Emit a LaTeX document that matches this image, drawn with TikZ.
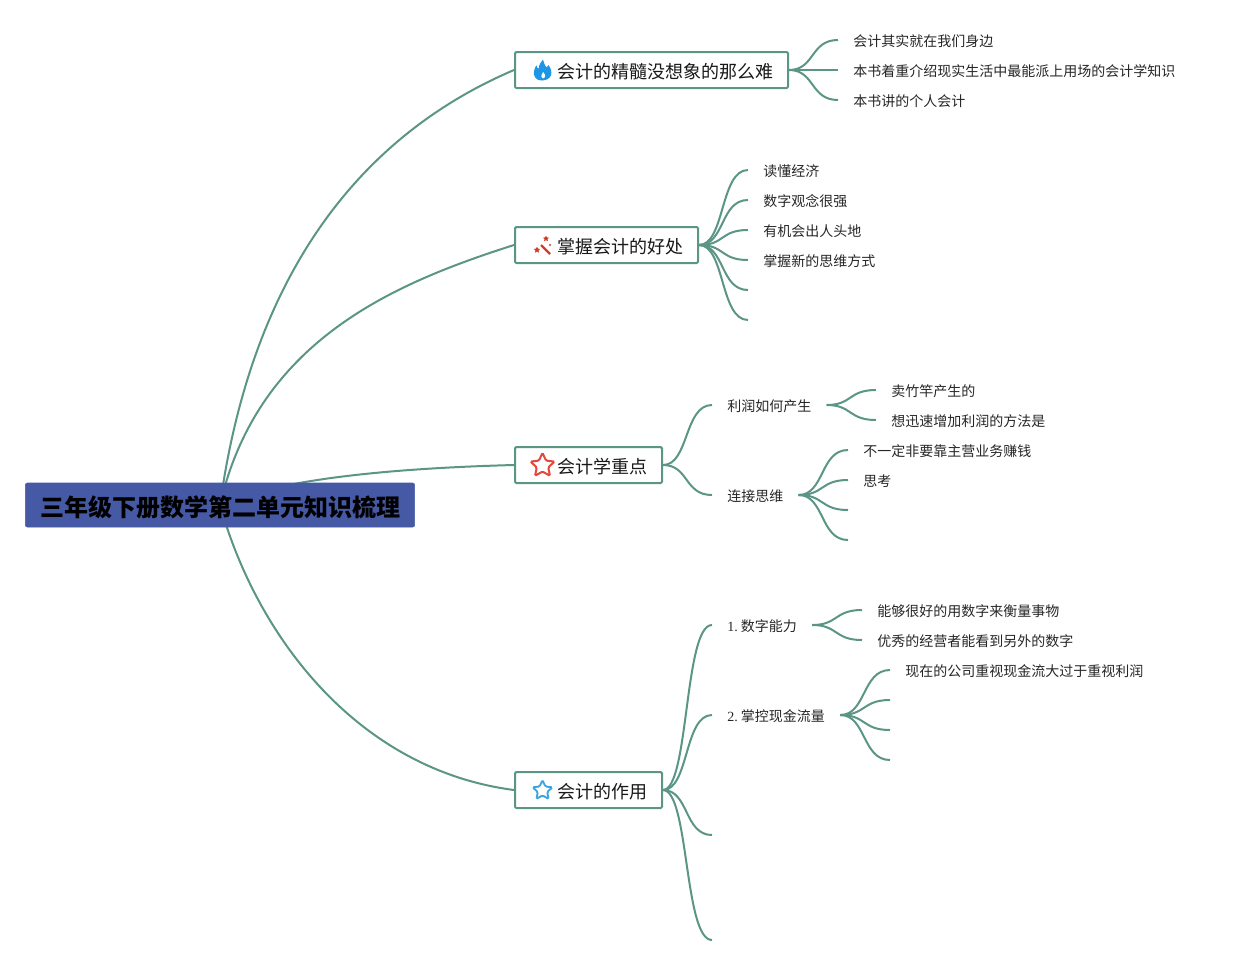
\documentclass[tikz,border=0pt]{standalone}
\usepackage{fontspec}
\setmainfont{Liberation Serif}
\newfontfamily\cjk{Noto Sans CJK SC}
\usetikzlibrary{shapes.geometric,backgrounds,calc}
\definecolor{linkc}{HTML}{5A9585}
\definecolor{rootc}{HTML}{4659A5}
\definecolor{fireblue}{HTML}{1E96E6}
\definecolor{wandred}{HTML}{D8392B}
\definecolor{starred}{HTML}{E5483A}
\definecolor{starblue}{HTML}{3AA5E0}
\tikzset{
  x=0.75pt,y=-0.75pt,
  rootnode/.style={draw=rootc,fill=rootc,rounded corners=1.5pt,minimum height=33pt,minimum width=292pt,inner sep=0pt,text height=17pt,text depth=0.4pt,font=\fontsize{18}{20}\selectfont\cjk\bfseries,text=black},
  branch/.style={draw=linkc,fill=white,line width=1.5pt,rounded corners=1pt,minimum height=27pt,inner ysep=0pt,inner xsep=0pt,text height=13pt,text depth=1pt,font=\fontsize{13.5}{16}\selectfont\cjk,text=black!90},
  leaf/.style={anchor=west,inner ysep=1pt,inner xsep=11.25pt,text height=10.5pt,text depth=0.3pt,font=\fontsize{10.5}{13}\selectfont\cjk,text=black!85},
  link/.style={draw=linkc,line width=1.5pt},
  star icon/.style={star,star points=5,star point ratio=2.1,inner sep=0pt,rounded corners=1pt,fill=white},
}
\begin{document}
\begin{tikzpicture}
\useasboundingbox (0,0) rectangle (1235,965);
% root
\node[rootnode] (root) at (220,505) {三年级下册数学第二单元知识梳理};
% branches
\node[branch,minimum width=204.75pt] (b1) at (651.5,70) {\hspace{21pt}会计的精髓没想象的那么难};
\node[branch,minimum width=137.25pt] (b2) at (606.5,245) {\hspace{21pt}掌握会计的好处};
\node[branch,minimum width=110.25pt] (b3) at (588.5,465) {\hspace{21pt}会计学重点};
\node[branch,minimum width=110.25pt] (b4) at (588.5,790) {\hspace{21pt}会计的作用};
% icons
\fill[fireblue] (541.5,80.5) .. controls (536,80.5) and (533,76) .. (534,71) .. controls (534.5,68) and (536,66) .. (536.5,65.5) .. controls (537,67.5) and (537.5,68.5) .. (538.5,69) .. controls (539,65) and (540.5,62) .. (543,59.5) .. controls (543.5,63) and (545,65) .. (546.5,67.5) .. controls (547.5,66.5) and (548,65.5) .. (548.5,65) .. controls (551,68.5) and (552,72) .. (551,75) .. controls (550,78.5) and (546.5,80.5) .. (541.5,80.5) -- cycle;
\fill[white] (543,78.5) .. controls (541,78) and (540.8,75.5) .. (542,74) .. controls (542.5,73.3) and (543,72.5) .. (543.2,72) .. controls (544.5,73.5) and (545.5,75.5) .. (545,77) .. controls (544.8,78) and (544,78.5) .. (543,78.5) -- cycle;
\draw[wandred,line width=1.6pt] (541,245) -- (550,254);
\fill[wandred] (537,246.5) -- (538,248.6) -- (540.2,249) -- (538.6,250.5) -- (539,252.7) -- (537,251.6) -- (535,252.7) -- (535.4,250.5) -- (533.8,249) -- (536,248.6) -- cycle;
\fill[wandred] (546,235.5) -- (546.9,237.4) -- (549,237.7) -- (547.5,239.1) -- (547.9,241.2) -- (546,240.2) -- (544.1,241.2) -- (544.5,239.1) -- (543,237.7) -- (545.1,237.4) -- cycle;
\fill[wandred] (550,245) circle (1.2);
\node[star icon,draw=starred,line width=1.5pt,minimum size=19pt] (s3) at (542.5,465.5) {};
\node[star icon,draw=starblue,line width=1.4pt,minimum size=15.5pt] (s4) at (542.5,790.5) {};
% leaves of b1
\node[leaf] (a1) at (838,40) {会计其实就在我们身边};
\node[leaf] (a2) at (838,70) {本书着重介绍现实生活中最能派上用场的会计学知识};
\node[leaf] (a3) at (838,100) {本书讲的个人会计};
% leaves of b2
\node[leaf] (c1) at (748,170) {读懂经济};
\node[leaf] (c2) at (748,200) {数字观念很强};
\node[leaf] (c3) at (748,230) {有机会出人头地};
\node[leaf] (c4) at (748,260) {掌握新的思维方式};
\coordinate (c5) at (748,290);\coordinate (c6) at (748,320);
% b3
\node[leaf] (d1) at (712,405) {利润如何产生};
\node[leaf] (d2) at (712,495) {连接思维};
\node[leaf] (e1) at (876,390) {卖竹竿产生的};
\node[leaf] (e2) at (876,420) {想迅速增加利润的方法是};
\node[leaf] (f1) at (848,450) {不一定非要靠主营业务赚钱};
\node[leaf] (f2) at (848,480) {思考};
\coordinate (f3) at (848,510);\coordinate (f4) at (848,540);
% b4
\node[leaf] (g1) at (712,625) {{\rmfamily 1. }\hspace{-1.1pt}数字能力};
\node[leaf] (g2) at (712,715) {{\rmfamily 2. }\hspace{-1.1pt}掌控现金流量};
\coordinate (g3) at (712,835);\coordinate (g4) at (712,940);
\node[leaf] (h1) at (862,610) {能够很好的用数字来衡量事物};
\node[leaf] (h2) at (862,640) {优秀的经营者能看到另外的数字};
\node[leaf] (i1) at (890,670) {现在的公司重视现金流大过于重视利润};
\coordinate (i2) at (890,700);\coordinate (i3) at (890,730);\coordinate (i4) at (890,760);
\begin{scope}[on background layer]
\draw[link] (root.center) .. controls (256,245) and (385,125) .. (b1.west);
\draw[link] (root.center) .. controls (258,340) and (395,283) .. (b2.west);
\draw[link] (root.center) .. controls (280,478) and (400,468) .. (b3.west);
\draw[link] (root.center) .. controls (258,640) and (360,770) .. (b4.west);
\foreach \s/\e in {b1/a1,b1/a2,b1/a3,b2/c1,b2/c2,b2/c3,b2/c4,b2/c5,b2/c6,b3/d1,b3/d2,b4/g1,b4/g2,b4/g3,b4/g4}{
  \draw[link] (\s.east) .. controls +(26,0) and ($(\e.west)+(-28,0)$) .. (\e.west);
}
\foreach \s/\e in {d1/e1,d1/e2,d2/f1,d2/f2,d2/f3,d2/f4,g1/h1,g1/h2,g2/i1,g2/i2,g2/i3,g2/i4}{
  \draw[link] (\s.east) .. controls +(26,0) and ($(\e.west)+(-28,0)$) .. (\e.west);
}
\end{scope}
\end{tikzpicture}
\end{document}
